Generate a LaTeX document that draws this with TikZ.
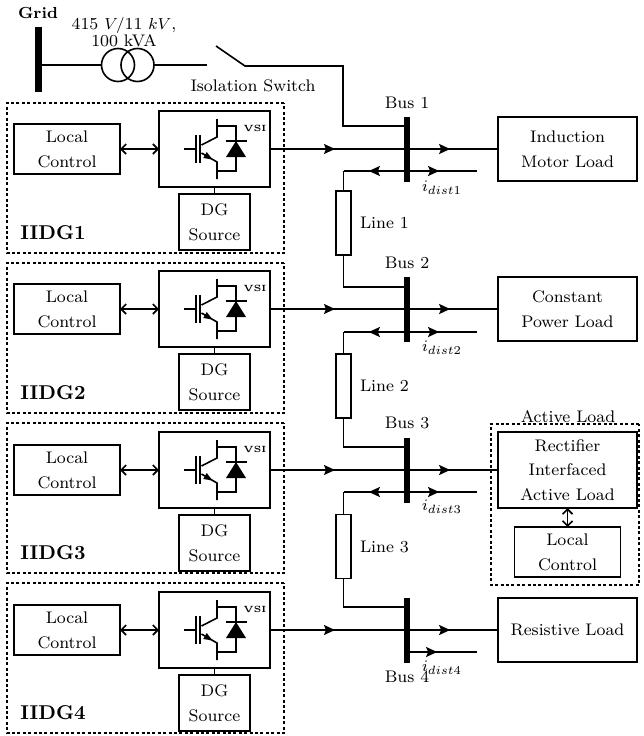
\documentclass[tikz,border=0pt]{standalone}
\usepackage{amsmath,amssymb}
\usepackage{xcolor}
\usetikzlibrary{arrows.meta,positioning,decorations.markings}
\newcommand{\labelfont}{\fontsize{8.4}{12.4}\selectfont}
\tikzset{
  igbt/.pic={
    \draw (-31,0) -- (-18.5,0);
    \draw[line width=2.4pt] (-18.5,-14) -- (-18.5,14);
    \draw[line width=1.6pt] (-14.5,-14) -- (-14.5,14);
    \draw (-13,-4) -- (2.5,-12) -- (2.5,-30);
    \draw (-13,4) -- (2.5,13) -- (2.5,30);
    \draw (2.5,-23) -- (21.5,-23) -- (21.5,22) -- (2.5,22);
    \fill (-2,10.5) -- (-7.75,3) -- (-11.25,9) -- cycle;
    \fill (21.5,-8) -- (11.5,8) -- (31.5,8) -- cycle;
    \draw (11,-8) -- (32,-8);
    \node[font=\fontsize{4.5}{5}\selectfont\bfseries, inner sep=0pt] (-tag) at (40.5,-21) {VSI};
  }
}
\begin{document}
\begin{tikzpicture}[
    x=1pt, y=-1pt, line width=1.6pt,
    every node/.style={scale=2, outer sep=0pt, font=\labelfont},
    block/.style={rectangle, draw, align=center, inner sep=0pt},
    ctrl/.style={block, minimum width=53pt, minimum height=25pt},
    vsibox/.style={block, minimum width=55.5pt, minimum height=38pt},
    source/.style={block, minimum width=35.5pt, minimum height=28pt},
    loadbox/.style={block, minimum width=69.5pt, minimum height=32pt},
    busbar/.style={rectangle, fill=black, inner sep=0pt, minimum width=3pt, minimum height=32.5pt},
    linebox/.style={rectangle, draw, inner sep=0pt, minimum width=7.5pt, minimum height=32pt},
    coil/.style={circle, draw, inner sep=0pt, minimum size=16.5pt},
    zone/.style={rectangle, draw, dash pattern=on 3pt off 2.4pt, line width=1.6pt, inner sep=0pt, minimum width=138.5pt, minimum height=75pt},
    tagtext/.style={font=\fontsize{10}{12}\selectfont\bfseries, inner sep=0pt},
    notetext/.style={inner sep=0pt, align=center},
    both/.style={{Straight Barb[length=5pt,width=10pt]}-{Straight Barb[length=5pt,width=10pt]}},
    powerline/.style={decoration={markings,
      mark=at position 0.285 with {\arrow{Stealth[length=11pt,width=10pt,inset=2pt]}},
      mark=at position 0.79 with {\arrow{Stealth[length=11pt,width=10pt,inset=2pt]}}}, postaction={decorate}},
    distline/.style={decoration={markings,
      mark=at position 0.19 with {\arrowreversed{Stealth[length=11pt,width=10pt,inset=2pt]}},
      mark=at position 0.716 with {\arrow{Stealth[length=11pt,width=10pt,inset=2pt]}}}, postaction={decorate}},
    endline/.style={decoration={markings,
      mark=at position 0.43 with {\arrow{Stealth[length=11pt,width=10pt,inset=2pt]}}}, postaction={decorate}}
  ]
    \useasboundingbox (0,0) rectangle (643,736);

    \node[zone] (zone1) at (145.5,178) {};
    \node[zone] (zone2) at (145.5,338) {};
    \node[zone] (zone3) at (145.5,498) {};
    \node[zone] (zone4) at (145.5,658) {};
    \node[zone, minimum width=74pt, minimum height=80.5pt] (zone5) at (565,504.5) {};

    \node[busbar, minimum width=3.5pt] (gridbus) at (38,59.5) {};
    \node[notetext, font=\fontsize{8}{10}\selectfont\bfseries] (gridtext) at (38,13) {Grid};
    \node[coil] (coil1) at (118,65) {};
    \node[coil] (coil2) at (137.5,65) {};
    \node[notetext, font=\fontsize{8.4}{8.5}\selectfont] (ratetext) at (124,32) {415 $V/$11 $kV$,\\100 kVA};
    \coordinate (gap) at (207,65);
    \coordinate (bladetop) at (216,46);
    \coordinate (bladeend) at (245,66);
    \coordinate (feed1) at (343,126);
    \node[notetext] (switchtext) at (253,86) {Isolation Switch};

    \node[vsibox] (vsi1) at (214.5,149) {};
    \node[ctrl, left=39pt of vsi1] (ctrl1) {Local\\Control};
    \node[source, below=7pt of vsi1] (dg1) {DG\\Source};
    \node[tagtext] (iidg1) at (53,233) {IIDG1};
    \pic[scale=0.5] (sw1) at (vsi1) {igbt};

    \node[vsibox] (vsi2) at (214.5,309) {};
    \node[ctrl, left=39pt of vsi2] (ctrl2) {Local\\Control};
    \node[source, below=7pt of vsi2] (dg2) {DG\\Source};
    \node[tagtext] (iidg2) at (53,393) {IIDG2};
    \pic[scale=0.5] (sw2) at (vsi2) {igbt};

    \node[vsibox] (vsi3) at (214.5,470) {};
    \node[ctrl, left=39pt of vsi3] (ctrl3) {Local\\Control};
    \node[source, below=7pt of vsi3] (dg3) {DG\\Source};
    \node[tagtext] (iidg3) at (53,553) {IIDG3};
    \pic[scale=0.5] (sw3) at (vsi3) {igbt};

    \node[vsibox] (vsi4) at (214.5,630) {};
    \node[ctrl, left=39pt of vsi4] (ctrl4) {Local\\Control};
    \node[source, below=7pt of vsi4] (dg4) {DG\\Source};
    \node[tagtext] (iidg4) at (53,713) {IIDG4};
    \pic[scale=0.5] (sw4) at (vsi4) {igbt};

    \node[busbar] (bus1) at (407,149.5) {};
    \node[busbar] (bus2) at (407,309.5) {};
    \node[busbar] (bus3) at (407,470) {};
    \node[busbar] (bus4) at (407,630) {};
    \node[notetext] (bus1text) at (407,103) {Bus 1};
    \node[notetext] (bus2text) at (407,263) {Bus 2};
    \node[notetext] (bus3text) at (407,423) {Bus 3};
    \node[notetext] (bus4text) at (407,677) {Bus 4};

    \node[loadbox] (load1) at (567.5,149) {Induction\\Motor Load};
    \node[loadbox] (load2) at (567.5,309) {Constant\\Power Load};
    \node[loadbox, minimum height=38pt] (load3) at (567.5,470) {Rectifier\\Interfaced\\Active Load};
    \node[loadbox] (load4) at (567.5,630) {Resistive Load};
    \node[ctrl, below=19pt of load3] (ctrl5) {Local\\Control};
    \node[notetext] (activetext) at (568,417) {Active Load};

    \node[linebox] (line1) at (343.5,223) {};
    \node[linebox] (line2) at (343.5,386) {};
    \node[linebox] (line3) at (343.5,546.5) {};
    \node[notetext, right=9pt of line1] (line1text) {Line 1};
    \node[notetext, right=9pt of line2] (line2text) {Line 2};
    \node[notetext, right=9pt of line3] (line3text) {Line 3};

    \coordinate (tap1) at (343.5,171);
    \coordinate (tap2) at (343.5,332);
    \coordinate (tap3) at (343.5,492);
    \coordinate (end1) at (477,171);
    \coordinate (end2) at (477,332);
    \coordinate (end3) at (477,492);
    \coordinate (end4) at (477,652);
    \node[notetext] (dist1) at (442,188) {$i_{dist1}$};
    \node[notetext] (dist2) at (442,348) {$i_{dist2}$};
    \node[notetext] (dist3) at (442,507) {$i_{dist3}$};
    \node[notetext] (dist4) at (442,668) {$i_{dist4}$};

    \draw (gridbus.east |- coil1) -- (coil1);
    \draw (coil2) -- (gap);
    \draw (bladetop) -- (bladeend) -| (feed1) -- (feed1 -| bus1.west);

    \draw[both] (ctrl1) -- (vsi1);
    \draw[both] (ctrl2) -- (vsi2);
    \draw[both] (ctrl3) -- (vsi3);
    \draw[both] (ctrl4) -- (vsi4);
    \draw (vsi1) -- (dg1);
    \draw (vsi2) -- (dg2);
    \draw (vsi3) -- (dg3);
    \draw (vsi4) -- (dg4);

    \draw[powerline] (vsi1) -- (load1);
    \draw[powerline] (vsi2) -- (load2);
    \draw[powerline] (vsi3) -- (load3);
    \draw[powerline] (vsi4) -- (load4);
    \draw[both] (load3) -- (ctrl5);

    \draw[distline] (tap1) -- (end1);
    \draw[distline] (tap2) -- (end2);
    \draw[distline] (tap3) -- (end3);
    \draw[endline] (bus4.center |- end4) -- (end4);

    \draw (tap1) -- (line1);
    \draw (line1) |- ([yshift=22.5pt]bus2.west);
    \draw (tap2) -- (line2);
    \draw (line2) |- ([yshift=23pt]bus3.west);
    \draw (tap3) -- (line3);
    \draw (line3) |- ([yshift=23pt]bus4.west);
  \end{tikzpicture}
\end{document}
